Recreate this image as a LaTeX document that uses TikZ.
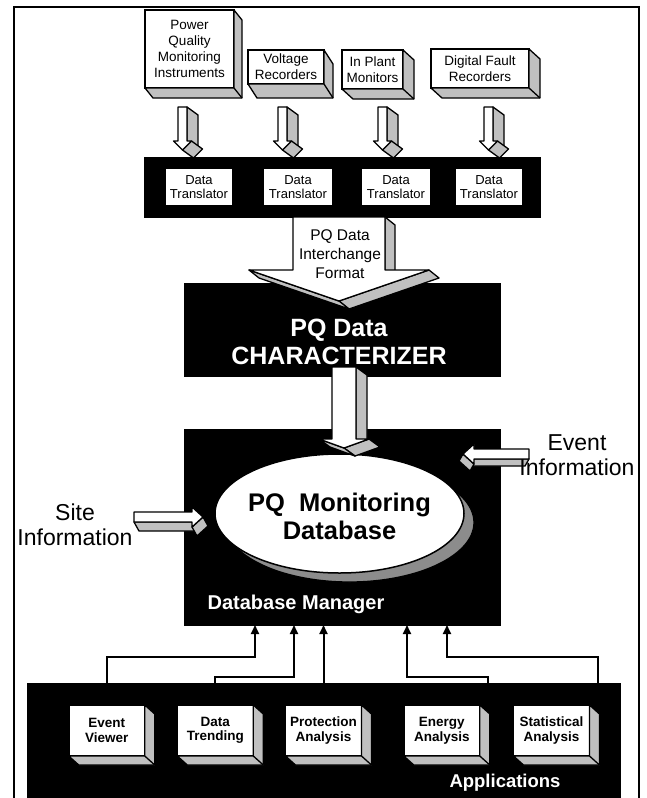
\documentclass[tikz,border=0pt]{standalone}
\usepackage{fontspec}
\setmainfont{Liberation Sans}
\usetikzlibrary{shapes.geometric,arrows.meta}
\definecolor{facegray}{RGB}{192,192,192}
\definecolor{shadowgray}{RGB}{140,140,140}
\newcommand{\fs}[2]{\fontsize{#1}{#2}\selectfont}
% extruded polygon: #1 ex, #2 ey, #3 closed clockwise list x/y
\newcommand{\exprism}[3]{%
  \foreach \px/\py [count=\i, remember=\px as \lx (initially 0), remember=\py as \ly (initially 0)] in {#3}{%
    \ifnum\i>1
      \pgfmathtruncatemacro\tstv{((((\px)-(\lx))*(#2)-((\py)-(\ly))*(#1))<0)}%
      \ifnum\tstv=1
        \filldraw[sideface] (\lx,\ly) -- (\px,\py) -- ([shift={(#1,#2)}]\px,\py) -- ([shift={(#1,#2)}]\lx,\ly) -- cycle;
      \fi
    \fi
  }%
  \foreach \px/\py [count=\i] in {#3}{%
    \ifnum\i=1 \xdef\prismpath{(\px,\py)}\else\xdef\prismpath{\prismpath -- (\px,\py)}\fi
  }%
  \edef\tmpcmd{\noexpand\filldraw[frontface] \prismpath -- cycle;}\tmpcmd
}
% 3D depth for a rectangular node
\newcommand{\mkdepth}[3]{%
  \filldraw[sideface] (#1.north east) -- ([shift={(#2,#3)}]#1.north east) -- ([shift={(#2,#3)}]#1.south east) -- ([shift={(#2,#3)}]#1.south west) -- (#1.south west) -- (#1.south east) -- cycle;
  \draw[sideface] (#1.south east) -- ([shift={(#2,#3)}]#1.south east);
}
\newcommand{\smallarr}[1]{%
  \pgfmathsetmacro\sArR{#1+4.5}\pgfmathsetmacro\sArL{#1-4.5}%
  \pgfmathsetmacro\sAwR{#1+9}\pgfmathsetmacro\sAwL{#1-9}%
  \exprism{11}{8}{\sArR/107,\sArR/141,\sAwR/141,#1/150,\sAwL/141,\sArL/141,\sArL/107,\sArR/107}%
}
\begin{document}
\begin{tikzpicture}[x=1pt,y=-1pt,
  sideface/.style={fill=facegray, draw=black, line width=1.3pt, line join=round},
  frontface/.style={fill=white, draw=black, line width=1.3pt, line join=round},
  tbox/.style={draw, fill=white, line width=1.5pt, inner sep=0pt, outer sep=0pt, align=center, font=\fs{13.5}{15.8}},
  blk/.style={fill=black, draw=black, inner sep=0pt, outer sep=0pt},
  trans/.style={fill=white, inner sep=0pt, outer sep=0pt, minimum height=36pt, align=center, font=\fs{13}{13.5}},
  abox/.style={draw, fill=white, line width=1.5pt, inner sep=0pt, outer sep=0pt, minimum width=76pt, minimum height=51pt, align=center, font=\bfseries\fs{13.5}{14.5}},
  conn/.style={line width=2pt, -{Triangle[length=9pt,width=8pt]}},
  lbl/.style={align=center, inner sep=0pt},
]
\useasboundingbox (0,0) rectangle (646,798);
\draw[line width=2pt] (14,798) -- (14,7) -- (639,7) -- (639,798);

% instruments
\node[tbox, minimum width=89pt, minimum height=78pt] (pqmi) at (189.5,49) {Power\\Quality\\Monitoring\\Instruments};
\mkdepth{pqmi}{8}{10}
\node[tbox, minimum width=76pt, minimum height=34pt] (vr) at (286,67) {Voltage\\Recorders};
\mkdepth{vr}{9}{14}
\node[tbox, minimum width=61pt, minimum height=39pt] (ipm) at (372.5,69.5) {In Plant\\Monitors};
\mkdepth{ipm}{11}{10}
\node[tbox, minimum width=98pt, minimum height=39pt] (dfr) at (480,68.5) {Digital Fault\\Recorders};
\mkdepth{dfr}{11}{10}

\smallarr{182.5}
\smallarr{282.5}
\smallarr{382.5}
\smallarr{488.5}

% translators
\node[blk, minimum width=396pt, minimum height=60pt] (bar) at (342,187) {};
\node[trans, minimum width=66pt] (t1) at (199,187) {Data\\Translator};
\node[trans, minimum width=68pt] (t2) at (298,187) {Data\\Translator};
\node[trans, minimum width=68pt] (t3) at (396,187) {Data\\Translator};
\node[trans, minimum width=66pt] (t4) at (489,187) {Data\\Translator};

% characterizer
\node[blk, minimum width=316pt, minimum height=93pt] (char) at (342,329.5) {};
\exprism{10}{8}{385/217,385/270,429/270,339/301,249/270,293/270,293/217,385/217}
\node[lbl, font=\fs{15.5}{19}] (pqif) at (340,254) {PQ Data\\Interchange\\Format};
\node[lbl, text=white, font=\bfseries\fs{25}{28}] (chartxt) at (339,342) {PQ Data\\CHARACTERIZER};

% database manager
\node[blk, minimum width=316pt, minimum height=196pt] (dbm) at (342,527) {};
\draw[line width=1.3pt, fill=shadowgray] (349.5,522.5) ellipse [x radius=124.5pt, y radius=59.5pt];
\node[ellipse, draw, line width=1.5pt, fill=white, minimum width=249pt, minimum height=119pt, inner sep=0pt] (db) at (339.5,513.5) {};
\node[lbl, font=\bfseries\fs{25.5}{28}] (dbtxt) at (339.5,516) {PQ\ \ Monitoring\\Database};
\exprism{11}{8}{356/367,356/439,369/439,344/448,319/439,332/439,332/367,356/367}
\node[lbl, text=white, font=\bfseries\fs{20}{22}] (dbmtxt) at (296,604) {Database Manager};

% side inputs
\exprism{5}{9}{192/522,134/522,134/512,192/512,192/507,203/517,192/527,192/522}
\exprism{-4}{7}{529/449,529/459,474/459,474/464,463/454,474/444,474/449,529/449}
\node[lbl, font=\fs{23}{25}] (sitetxt) at (75,524.5) {Site\\Information};
\node[lbl, font=\fs{23}{25}] (evtxt) at (577,455.5) {Event\\Information};

% applications
\node[blk, minimum width=593pt, minimum height=114pt] (apps) at (323.5,740) {};
\node[abox] (ev) at (106.75,730.5) {Event\\Viewer};
\mkdepth{ev}{10}{9}
\node[abox] (dt) at (215.3,730.5) {Data\\Trending};
\mkdepth{dt}{10}{9}
\node[abox] (pa) at (323.5,730.5) {Protection\\Analysis};
\mkdepth{pa}{10}{9}
\node[abox] (ea) at (441.8,730.5) {Energy\\Analysis};
\mkdepth{ea}{10}{9}
\node[abox] (sa) at (551.5,730.5) {Statistical\\Analysis};
\mkdepth{sa}{10}{9}
\node[lbl, text=white, font=\bfseries\fs{18.5}{20}] (appstxt) at (505,783) {Applications};

% connectors
\coordinate (k1) at (255,625);
\coordinate (k2) at (294,625);
\coordinate (k4) at (407,625);
\coordinate (k5) at (447,625);
\coordinate (e4) at (488,683);
\coordinate (e5) at (598,683);
\draw[conn] (apps.north -| ev.center) -- ++(0,-26) -| (dbm.south -| k1);
\draw[conn] (apps.north -| dt.center) -- ++(0,-6) -| (dbm.south -| k2);
\draw[conn] (apps.north -| pa.center) -- (dbm.south -| pa.center);
\draw[conn] (apps.north -| e4) -- ++(0,-6) -| (dbm.south -| k4);
\draw[conn] (apps.north -| e5) -- ++(0,-26) -| (dbm.south -| k5);
\end{tikzpicture}
\end{document}
